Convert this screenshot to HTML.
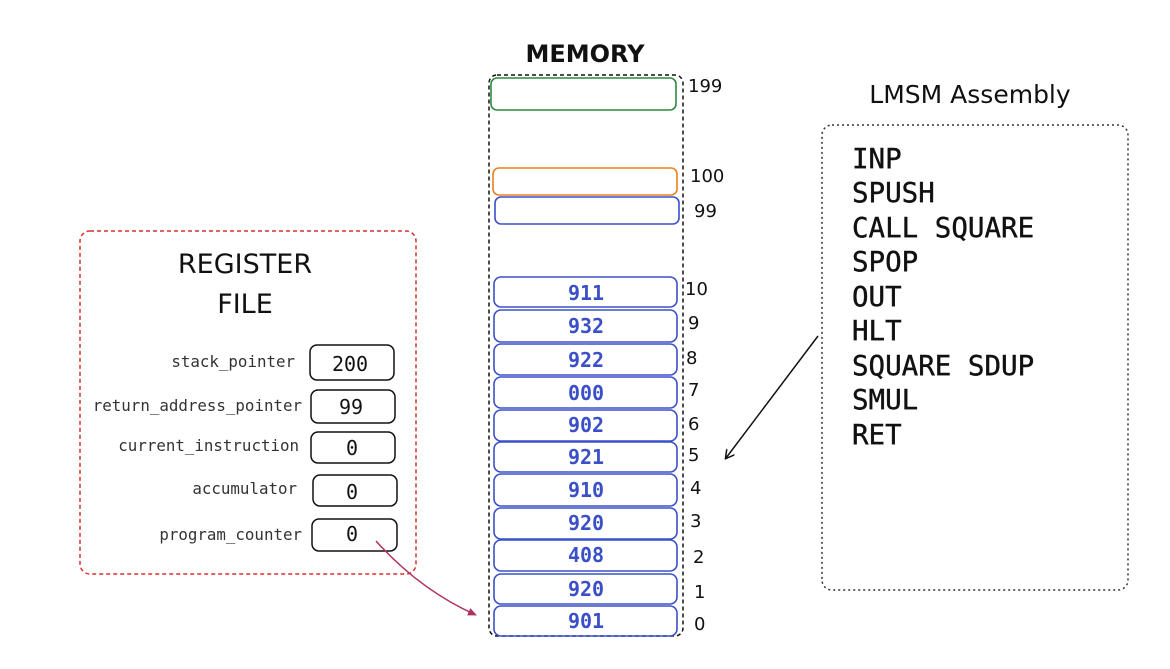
<!DOCTYPE html>
<html><head><meta charset="utf-8"><style>
body{margin:0;background:#fff;width:1170px;height:664px;overflow:hidden}
</style></head><body>
<svg width="1170" height="664" xmlns="http://www.w3.org/2000/svg">
<defs>
<marker id="ah" markerWidth="10" markerHeight="10" refX="8" refY="5" orient="auto" markerUnits="userSpaceOnUse"><path d="M0,0 L9,5 L0,10" fill="none" stroke="#111" stroke-width="1.5"/></marker>
<marker id="ahr" markerWidth="10" markerHeight="10" refX="8" refY="5" orient="auto" markerUnits="userSpaceOnUse"><path d="M0,1 L9,5 L0,9 Z" fill="#b03060"/></marker>
</defs>
<g font-family="'Comic Sans MS','DejaVu Sans',sans-serif" fill="#111">
<text x="585" y="62" font-size="24" text-anchor="middle" font-weight="bold">MEMORY</text>
<text x="970" y="103" font-size="25" text-anchor="middle">LMSM Assembly</text>
<text x="245" y="273" font-size="27" text-anchor="middle">REGISTER</text>
<text x="245" y="313" font-size="27" text-anchor="middle">FILE</text>
</g>
<rect x="489" y="75" width="194" height="561" rx="8" fill="none" stroke="#111" stroke-width="1.5" stroke-dasharray="4,3"/>
<rect x="491" y="78" width="185" height="32" rx="6" fill="none" stroke="#2f8a3f" stroke-width="1.6"/>
<rect x="493" y="168" width="184" height="27" rx="6" fill="none" stroke="#e8821e" stroke-width="1.6"/>
<rect x="495" y="197" width="184" height="27" rx="6" fill="none" stroke="#3b50c8" stroke-width="1.6"/>
<g fill="none" stroke="#3b50c8" stroke-width="1.6">
<rect x="494" y="277" width="183" height="30" rx="7"/>
<rect x="494" y="310" width="183" height="32" rx="7"/>
<rect x="494" y="344" width="183" height="31" rx="7"/>
<rect x="494" y="377" width="183" height="31" rx="7"/>
<rect x="494" y="410" width="183" height="31" rx="7"/>
<rect x="494" y="442" width="183" height="30" rx="7"/>
<rect x="494" y="474" width="183" height="32" rx="7"/>
<rect x="494" y="508" width="183" height="31" rx="7"/>
<rect x="494" y="540" width="183" height="31" rx="7"/>
<rect x="494" y="574" width="183" height="30" rx="7"/>
<rect x="494" y="606" width="183" height="30" rx="7"/>
</g>
<g font-family="'DejaVu Sans Mono','Liberation Mono',monospace" font-size="20" font-weight="bold" fill="#3b50c8" text-anchor="middle">
<text x="586" y="300">911</text><text x="586" y="333">932</text><text x="586" y="367">922</text>
<text x="586" y="400">000</text><text x="586" y="432">902</text><text x="586" y="464">921</text>
<text x="586" y="497">910</text><text x="586" y="530">920</text><text x="586" y="562">408</text>
<text x="586" y="596">920</text><text x="586" y="628">901</text>
</g>
<g font-family="'Comic Sans MS','DejaVu Sans',sans-serif" font-size="18" fill="#111">
<text x="688" y="92">199</text><text x="690" y="182">100</text><text x="694" y="217">99</text>
<text x="685" y="295">10</text><text x="688" y="329">9</text><text x="686" y="364">8</text>
<text x="688" y="396">7</text><text x="688" y="430">6</text><text x="688" y="461">5</text>
<text x="690" y="494">4</text><text x="690" y="527">3</text><text x="693" y="563">2</text>
<text x="694" y="598">1</text><text x="694" y="630">0</text>
</g>
<rect x="80" y="231" width="336" height="343" rx="10" fill="none" stroke="#d9302f" stroke-width="1.5" stroke-dasharray="4,3"/>
<g font-family="'DejaVu Sans Mono','Liberation Mono',monospace" font-size="15.8" fill="#333" text-anchor="end">
<text x="295" y="367">stack_pointer</text>
<text x="302" y="411">return_address_pointer</text>
<text x="299" y="451">current_instruction</text>
<text x="297" y="494">accumulator</text>
<text x="302" y="540">program_counter</text>
</g>
<g fill="none" stroke="#111" stroke-width="1.5">
<rect x="310" y="345" width="84" height="35" rx="7"/>
<rect x="311" y="390" width="84" height="33" rx="7"/>
<rect x="311" y="432" width="84" height="31" rx="7"/>
<rect x="313" y="475" width="84" height="31" rx="7"/>
<rect x="312" y="519" width="85" height="32" rx="7"/>
</g>
<g font-family="'DejaVu Sans Mono','Liberation Mono',monospace" font-size="20" fill="#111" text-anchor="middle">
<text x="350" y="371">200</text><text x="351" y="414">99</text><text x="352" y="455">0</text>
<text x="352" y="499">0</text><text x="352" y="541">0</text>
</g>
<path d="M376,541 Q420,590 476,615" fill="none" stroke="#b03060" stroke-width="1.5" marker-end="url(#ahr)"/>
<rect x="822" y="125" width="306" height="465" rx="10" fill="none" stroke="#333" stroke-width="1.5" stroke-dasharray="2,3"/>
<g font-family="'DejaVu Sans Mono','Liberation Mono',monospace" font-size="27.5" fill="#111" stroke="#111" stroke-width="0.4">
<text x="852" y="168">INP</text><text x="852" y="202">SPUSH</text><text x="852" y="237">CALL SQUARE</text>
<text x="852" y="271">SPOP</text><text x="852" y="306">OUT</text><text x="852" y="340">HLT</text>
<text x="852" y="375">SQUARE SDUP</text><text x="852" y="409">SMUL</text><text x="852" y="444">RET</text>
</g>
<path d="M818,336 L726,458" stroke="#111" stroke-width="1.5" fill="none" marker-end="url(#ah)"/>
</svg>
</body></html>
